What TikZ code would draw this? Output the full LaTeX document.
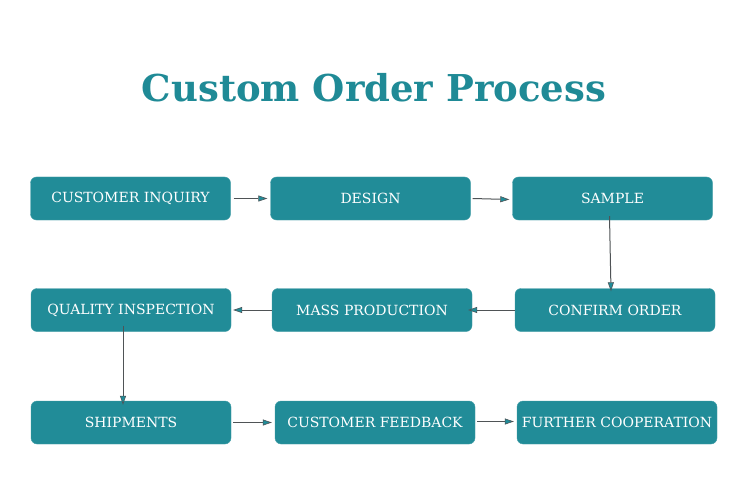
\documentclass[tikz,border=0pt]{standalone}
\usepackage{fontspec}
\setmainfont{DejaVu Serif}
\usetikzlibrary{arrows.meta}
\definecolor{boxcol}{HTML}{218C98}
\definecolor{titlecol}{HTML}{1F8A96}
\definecolor{linecol}{HTML}{4F5356}
\tikzset{
  stepbox/.style={draw=boxcol!85!white, fill=boxcol, rounded corners=6pt, minimum width=200pt, minimum height=43pt, text=white, font=\fontsize{14}{16}\selectfont, inner sep=2pt},
  conn/.style={draw=linecol, line width=1pt, -{Triangle[length=9pt, width=6pt, fill=boxcol, color=linecol, line width=0.6pt]}}
}
\begin{document}
\begin{tikzpicture}[x=1pt,y=-1pt]
\useasboundingbox (0,0) rectangle (750,500);
\fill[white] (0,0) rectangle (750,500);
\node[font=\fontsize{37}{40}\selectfont\bfseries, text=titlecol] (title) at (374,88) {Custom Order Process};
\node[stepbox] (ci) at (130.5,198.5) {CUSTOMER INQUIRY};
\node[stepbox] (de) at (370.5,198.5) {DESIGN};
\node[stepbox] (sa) at (612.5,198.5) {SAMPLE};
\node[stepbox] (qi) at (131,310) {QUALITY INSPECTION};
\node[stepbox] (mp) at (372,310) {MASS PRODUCTION};
\node[stepbox] (co) at (615,310) {CONFIRM ORDER};
\node[stepbox] (sh) at (131,422.5) {SHIPMENTS};
\node[stepbox] (cf) at (375,422.5) {CUSTOMER FEEDBACK};
\node[stepbox] (fc) at (617,422.5) {FURTHER COOPERATION};
\draw[conn] ([xshift=3pt]ci.east) -- ([xshift=-3pt]de.west);
\draw[conn] ([xshift=2pt]de.east) -- ([xshift=-3pt,yshift=-1pt]sa.west);
\draw[conn] ([xshift=-3pt,yshift=4pt]sa.south) -- ([xshift=-4pt,yshift=-3pt]co.north);
\draw[conn] (co.west) -- ([xshift=-4pt]mp.east);
\draw[conn] (mp.west) -- ([xshift=2pt]qi.east);
\draw[conn] ([xshift=-8pt,yshift=6pt]qi.south) -- ([xshift=-8pt,yshift=-4pt]sh.north);
\draw[conn] ([xshift=2pt]sh.east) -- ([xshift=-3pt]cf.west);
\draw[conn] ([xshift=2pt,yshift=1pt]cf.east) -- ([xshift=-3pt,yshift=1pt]fc.west);
\end{tikzpicture}
\end{document}
